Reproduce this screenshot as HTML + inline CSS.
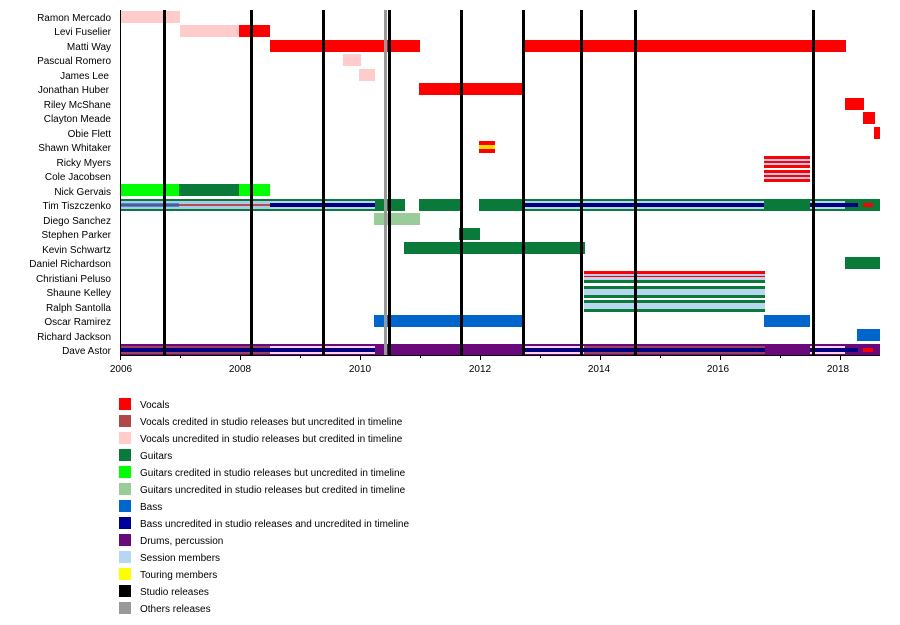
<!DOCTYPE html>
<html><head><meta charset="utf-8"><style>
body{margin:0;background:#fff}
svg{display:block;font-family:"Liberation Sans",sans-serif;font-size:10px}
</style></head><body>
<svg width="900" height="625" xmlns="http://www.w3.org/2000/svg">
<g text-anchor="end" fill="#000">
<text x="111" y="21">Ramon Mercado</text>
<text x="111" y="35">Levi Fuselier</text>
<text x="111" y="50">Matti Way</text>
<text x="111" y="64">Pascual Romero</text>
<text x="109" y="79">James Lee</text>
<text x="109" y="93">Jonathan Huber</text>
<text x="111" y="108">Riley McShane</text>
<text x="111" y="122">Clayton Meade</text>
<text x="111" y="137">Obie Flett</text>
<text x="111" y="151">Shawn Whitaker</text>
<text x="111" y="166">Ricky Myers</text>
<text x="111" y="180">Cole Jacobsen</text>
<text x="111" y="195">Nick Gervais</text>
<text x="111" y="209">Tim Tiszczenko</text>
<text x="111" y="224">Diego Sanchez</text>
<text x="111" y="238">Stephen Parker</text>
<text x="111" y="253">Kevin Schwartz</text>
<text x="111" y="267">Daniel Richardson</text>
<text x="111" y="282">Christiani Peluso</text>
<text x="111" y="296">Shaune Kelley</text>
<text x="111" y="311">Ralph Santolla</text>
<text x="111" y="325">Oscar Ramirez</text>
<text x="111" y="340">Richard Jackson</text>
<text x="111" y="354">Dave Astor</text>
</g>
<g>
<rect x="121" y="11" width="59" height="12" fill="#ffcccc"/>
<rect x="180" y="25" width="59" height="12" fill="#ffcccc"/>
<rect x="239" y="25" width="31" height="12" fill="#ff0000"/>
<rect x="270" y="40" width="150" height="12" fill="#ff0000"/>
<rect x="524" y="40" width="322" height="12" fill="#ff0000"/>
<rect x="343" y="54" width="18" height="12" fill="#ffcccc"/>
<rect x="359" y="69" width="16" height="12" fill="#ffcccc"/>
<rect x="419" y="83" width="105" height="12" fill="#ff0000"/>
<rect x="845" y="98" width="19" height="12" fill="#ff0000"/>
<rect x="863" y="112" width="12" height="12" fill="#ff0000"/>
<rect x="874" y="127" width="6" height="12" fill="#ff0000"/>
<rect x="479" y="141" width="16" height="12" fill="#ff0000"/><rect x="479" y="145" width="16" height="4" fill="#ffdd00"/>
<rect x="764" y="156" width="46" height="12" fill="#ff0000"/><rect x="764" y="159" width="46" height="2" fill="#c0c8f0"/><rect x="764" y="163" width="46" height="2" fill="#c0c8f0"/>
<rect x="764" y="170" width="46" height="12" fill="#ff0000"/><rect x="764" y="173" width="46" height="2" fill="#c0c8f0"/><rect x="764" y="177" width="46" height="2" fill="#c0c8f0"/>
<rect x="121" y="184" width="58" height="12" fill="#00ff00"/>
<rect x="179" y="184" width="60" height="12" fill="#0a7a3a"/>
<rect x="239" y="184" width="31" height="12" fill="#00ff00"/>
<rect x="121" y="199" width="759" height="12" fill="#0a7a3a"/>
<rect x="121" y="201" width="149" height="8" fill="#a9cbe8"/>
<rect x="121" y="204" width="149" height="2" fill="#b05050"/>
<rect x="121" y="203" width="58" height="4" fill="#1060c0" opacity="0.6"/>
<rect x="270" y="201" width="105" height="8" fill="#b8d6f0"/>
<rect x="270" y="203" width="105" height="4" fill="#000080"/>
<rect x="405" y="199" width="14" height="12" fill="#fff"/>
<rect x="461" y="199" width="18" height="12" fill="#fff"/>
<rect x="524" y="201" width="240" height="8" fill="#b8d6f0"/>
<rect x="524" y="203" width="240" height="4" fill="#000080"/>
<rect x="810" y="201" width="35" height="8" fill="#b8d6f0"/>
<rect x="810" y="203" width="48" height="4" fill="#000080"/>
<rect x="863" y="203" width="10" height="4" fill="#ff0000"/>
<rect x="374" y="213" width="46" height="12" fill="#99cc99"/>
<rect x="459" y="228" width="21" height="12" fill="#0a7a3a"/>
<rect x="404" y="242" width="181" height="12" fill="#0a7a3a"/>
<rect x="845" y="257" width="35" height="12" fill="#0a7a3a"/>
<rect x="584" y="271" width="181" height="12" fill="#ff0000"/><rect x="584" y="274" width="181" height="2" fill="#c0c8f0"/><rect x="584" y="277" width="181" height="3" fill="#b8d6f0"/><rect x="584" y="280" width="181" height="3" fill="#0a7a3a"/>
<rect x="584" y="286" width="181" height="12" fill="#0a7a3a"/><rect x="584" y="289" width="181" height="6" fill="#b8d6f0"/>
<rect x="584" y="300" width="181" height="12" fill="#0a7a3a"/><rect x="584" y="303" width="181" height="6" fill="#b8d6f0"/>
<rect x="374" y="315" width="150" height="12" fill="#0066cc"/>
<rect x="764" y="315" width="46" height="12" fill="#0066cc"/>
<rect x="857" y="329" width="23" height="12" fill="#0066cc"/>
<rect x="121" y="344" width="759" height="12" fill="#6a0a7a"/>
<rect x="121" y="346" width="149" height="8" fill="#a04060"/>
<rect x="270" y="346" width="105" height="8" fill="#ffd0e8"/>
<rect x="524" y="346" width="60" height="8" fill="#ffd0e8"/>
<rect x="584" y="346" width="181" height="8" fill="#a04060"/>
<rect x="810" y="346" width="35" height="8" fill="#ffd0e8"/>
<rect x="121" y="348" width="254" height="4" fill="#000080"/>
<rect x="524" y="348" width="241" height="4" fill="#000080"/>
<rect x="810" y="348" width="48" height="4" fill="#000080"/>
<rect x="863" y="348" width="10" height="4" fill="#ff0000"/>
</g>
<g fill="#000">
<rect x="163" y="10" width="3" height="345"/>
<rect x="250" y="10" width="3" height="345"/>
<rect x="322" y="10" width="3" height="345"/>
<rect x="384" y="10" width="3" height="345" fill="#999"/>
<rect x="388" y="10" width="3" height="345"/>
<rect x="460" y="10" width="3" height="345"/>
<rect x="522" y="10" width="3" height="345"/>
<rect x="580" y="10" width="3" height="345"/>
<rect x="634" y="10" width="3" height="345"/>
<rect x="812" y="10" width="3" height="345"/>
</g>
<g stroke="#000" stroke-width="1">
<line x1="120.5" y1="10" x2="120.5" y2="356"/>
<line x1="120" y1="355.5" x2="880" y2="355.5"/>
<line x1="120.5" y1="355" x2="120.5" y2="360"/><line x1="180.5" y1="355" x2="180.5" y2="358"/>
<line x1="240.5" y1="355" x2="240.5" y2="360"/><line x1="300.5" y1="355" x2="300.5" y2="358"/>
<line x1="360.5" y1="355" x2="360.5" y2="360"/><line x1="420.5" y1="355" x2="420.5" y2="358"/>
<line x1="480.5" y1="355" x2="480.5" y2="360"/><line x1="540.5" y1="355" x2="540.5" y2="358"/>
<line x1="600.5" y1="355" x2="600.5" y2="360"/><line x1="660.5" y1="355" x2="660.5" y2="358"/>
<line x1="720.5" y1="355" x2="720.5" y2="360"/><line x1="780.5" y1="355" x2="780.5" y2="358"/>
<line x1="840.5" y1="355" x2="840.5" y2="360"/>
</g>
<g text-anchor="middle">
<text x="121" y="372">2006</text><text x="240" y="372">2008</text><text x="360" y="372">2010</text>
<text x="480" y="372">2012</text><text x="599" y="372">2014</text><text x="718" y="372">2016</text><text x="838" y="372">2018</text>
</g>
<g>
<rect x="119" y="398" width="12" height="12" fill="#ff0000"/><text x="140" y="408">Vocals</text>
<rect x="119" y="415" width="12" height="12" fill="#b04848"/><text x="140" y="425">Vocals credited in studio releases but uncredited in timeline</text>
<rect x="119" y="432" width="12" height="12" fill="#ffcccc"/><text x="140" y="442">Vocals uncredited in studio releases but credited in timeline</text>
<rect x="119" y="449" width="12" height="12" fill="#0a7a3a"/><text x="140" y="459">Guitars</text>
<rect x="119" y="466" width="12" height="12" fill="#00ff00"/><text x="140" y="476">Guitars credited in studio releases but uncredited in timeline</text>
<rect x="119" y="483" width="12" height="12" fill="#99cc99"/><text x="140" y="493">Guitars uncredited in studio releases but credited in timeline</text>
<rect x="119" y="500" width="12" height="12" fill="#0066cc"/><text x="140" y="510">Bass</text>
<rect x="119" y="517" width="12" height="12" fill="#000099"/><text x="140" y="527">Bass uncredited in studio releases and uncredited in timeline</text>
<rect x="119" y="534" width="12" height="12" fill="#6a0a7a"/><text x="140" y="544">Drums, percussion</text>
<rect x="119" y="551" width="12" height="12" fill="#b8d6f0"/><text x="140" y="561">Session members</text>
<rect x="119" y="568" width="12" height="12" fill="#ffff00"/><text x="140" y="578">Touring members</text>
<rect x="119" y="585" width="12" height="12" fill="#000"/><text x="140" y="595">Studio releases</text>
<rect x="119" y="602" width="12" height="12" fill="#999"/><text x="140" y="612">Others releases</text>
</g>
</svg>
</body></html>
